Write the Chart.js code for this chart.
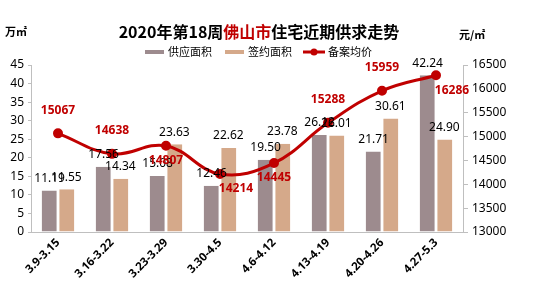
<!DOCTYPE html>
<html>
<head>
<meta charset="utf-8">
<script src="https://cdn.jsdelivr.net/npm/chart.js@4/dist/chart.umd.min.js"></script>
<style>
html,body{margin:0;padding:0;background:#fff;}
canvas{display:block;}
</style>
</head>
<body>
<canvas id="c" width="534" height="292"></canvas>
<script>
const categories = ['3.9-3.15','3.16-3.22','3.23-3.29','3.30-4.5','4.6-4.12','4.13-4.19','4.20-4.26','4.27-5.3'];
const supplyArea = [11.19, 17.56, 15.08, 12.46, 19.50, 26.12, 21.71, 42.24];
const signedArea = [11.55, 14.34, 23.63, 22.62, 23.78, 26.01, 30.61, 24.90];
const avgPrice = [15067, 14638, 14807, 14214, 14445, 15288, 15959, 16286];
const leftTicks = [0,5,10,15,20,25,30,35,40,45];
const rightTicks = [13000,13500,14000,14500,15000,15500,16000,16500];
const seriesNames = ['供应面积','签约面积','备案均价'];
const priceLabelSide = ['above','above','below','below','below','above','above','below'];

const C_SUPPLY = '#9d8b8e';
const C_SIGNED = '#d5a98a';
const C_PRICE = '#c00000';
const NUMFONT = '"Noto Sans", "DejaVu Sans", sans-serif';
const CJKFONT = '"Noto Sans CJK SC", sans-serif';

const overlay = {
  id: 'overlay',
  afterDatasetsDraw(chart) {
    const ctx = chart.ctx;
    ctx.save();
    ctx.font = '12px ' + NUMFONT;
    ctx.fillStyle = '#000';
    ctx.textAlign = 'center';
    ctx.textBaseline = 'middle';
    [0,1].forEach(di => {
      const meta = chart.getDatasetMeta(di);
      const vals = chart.data.datasets[di].data;
      meta.data.forEach((bar, i) => {
        ctx.fillText(vals[i].toFixed(2), bar.x, bar.y - 12);
      });
    });
    ctx.font = 'bold 12px ' + NUMFONT;
    ctx.fillStyle = C_PRICE;
    const lm = chart.getDatasetMeta(2);
    lm.data.forEach((pt, i) => {
      const dy = priceLabelSide[i] === 'above' ? -23 : 15;
      const dx = (i === 3 || i === 7) ? 16 : 0;
      ctx.fillText(String(avgPrice[i]), pt.x + dx, pt.y + dy);
    });
    ctx.restore();
  },
  afterDraw(chart) {
    const ctx = chart.ctx;
    ctx.save();
    ctx.font = 'bold 16px ' + CJKFONT;
    ctx.textBaseline = 'middle';
    ctx.textAlign = 'left';
    const parts = [['2020年第18周','#000'],['佛山市',C_PRICE],['住宅近期供求走势','#000']];
    let total = parts.reduce((s,p)=>s+ctx.measureText(p[0]).width,0);
    let x = 259 - total/2;
    parts.forEach(p => { ctx.fillStyle = p[1]; ctx.fillText(p[0], x, 32); x += ctx.measureText(p[0]).width; });
    ctx.font = 'bold 11px ' + CJKFONT;
    ctx.fillStyle = '#000';
    ctx.fillText('万㎡', 5, 32);
    ctx.fillText('元/㎡', 459, 35);
    ctx.font = '11px ' + CJKFONT;
    ctx.fillStyle = C_SUPPLY; ctx.fillRect(145, 50, 19, 4);
    ctx.fillStyle = C_SIGNED; ctx.fillRect(225, 50, 19, 4);
    ctx.strokeStyle = C_PRICE; ctx.lineWidth = 3;
    ctx.beginPath(); ctx.moveTo(303, 52); ctx.lineTo(325, 52); ctx.stroke();
    ctx.fillStyle = C_PRICE; ctx.beginPath(); ctx.arc(314, 52, 3.5, 0, Math.PI*2); ctx.fill();
    ctx.fillStyle = '#000';
    ctx.fillText(seriesNames[0], 168, 52);
    ctx.fillText(seriesNames[1], 248, 52);
    ctx.fillText(seriesNames[2], 328, 52);
    ctx.restore();
  }
};

new Chart(document.getElementById('c'), {
  data: {
    labels: categories,
    datasets: [
      { type: 'bar', label: seriesNames[0], data: supplyArea, backgroundColor: C_SUPPLY, borderColor: '#ffffff', borderWidth: {left:0,right:1,top:0,bottom:0}, yAxisID: 'y', order: 2, categoryPercentage: 0.62, barPercentage: 0.95 },
      { type: 'bar', label: seriesNames[1], data: signedArea, backgroundColor: C_SIGNED, borderColor: '#ffffff', borderWidth: {left:1,right:0,top:0,bottom:0}, yAxisID: 'y', order: 2, categoryPercentage: 0.62, barPercentage: 0.95 },
      { type: 'line', label: seriesNames[2], data: avgPrice, borderColor: C_PRICE, backgroundColor: C_PRICE, borderWidth: 3, pointRadius: 3.5, pointBackgroundColor: C_PRICE, pointBorderColor: C_PRICE, tension: 0.4, yAxisID: 'y1', order: 1 }
    ]
  },
  options: {
    responsive: false,
    animation: false,
    layout: { padding: { top: 65, left: 0, right: 0, bottom: 0 } },
    plugins: { legend: { display: false }, tooltip: { enabled: false }, title: { display: false } },
    scales: {
      x: {
        grid: { display: true, drawOnChartArea: false, drawTicks: false, color: '#bfbfbf' },
        border: { display: true, color: '#bfbfbf', width: 1 },
        ticks: { autoSkip: false, minRotation: 45, maxRotation: 45, color: '#000', font: { size: 11.5, weight: 'bold', family: NUMFONT }, padding: 4 },
        afterFit(s) { s.height = 60; }
      },
      y: {
        position: 'left', min: 0, max: 45,
        afterBuildTicks(s) { s.ticks = leftTicks.map(v => ({ value: v })); },
        ticks: { color: '#000', font: { size: 12, family: NUMFONT }, padding: 4, callback: v => String(v) },
        grid: { drawOnChartArea: false, color: '#bfbfbf', tickLength: 3 },
        border: { color: '#bfbfbf', width: 1 },
        afterFit(s) { s.width = 31; }
      },
      y1: {
        position: 'right', min: 13000, max: 16500,
        afterBuildTicks(s) { s.ticks = rightTicks.map(v => ({ value: v })); },
        ticks: { color: '#000', font: { size: 12, family: NUMFONT }, padding: 4, callback: v => String(v) },
        grid: { drawOnChartArea: false, color: '#bfbfbf', tickLength: 5 },
        border: { color: '#bfbfbf', width: 1 },
        afterFit(s) { s.width = 71; }
      }
    }
  },
  plugins: [overlay]
});
</script>
</body>
</html>
